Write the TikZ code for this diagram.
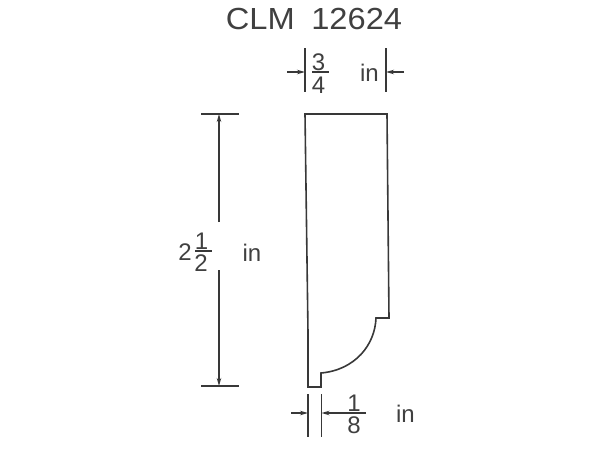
\documentclass[tikz,border=0pt]{standalone}
\usepackage{graphicx}
\usepackage{fontspec}
\setmainfont{Liberation Sans}
\usetikzlibrary{arrows.meta}
\tikzset{
  ln/.style={line width=1.4pt,draw=black!78},
  dimline/.style={ln,-{Stealth[length=8pt,width=4.5pt]}},
  big/.style={inner sep=0pt,anchor=center,text=black!75,font=\fontsize{30.5}{32}\selectfont},
  txt/.style={inner sep=0pt,anchor=center,text=black!75,font=\fontsize{24}{26}\selectfont}
}
\begin{document}
\begin{tikzpicture}[x=1pt,y=-1pt]
\useasboundingbox (0,0) rectangle (600,450);
\node[big] (title) at (314,19) {\scalebox{1.07}[1]{CLM\hspace{15.5pt}12624}};
% profile
\draw[ln,line width=1.6pt,line join=miter] (305,114) -- (387,114) -- (389,318) -- (376,318)
  .. controls (375,345) and (355,370) .. (321,373) -- (321,387) -- (308,387) -- (308,333) -- cycle;
% top dimension
\coordinate (ta) at (305,48); \coordinate (tb) at (305,92);
\coordinate (tc) at (386,48); \coordinate (td) at (386,92);
\coordinate (te) at (287,72); \coordinate (tf) at (305,72);
\coordinate (tg) at (404,72); \coordinate (th) at (386,72);
\coordinate (ti) at (312,72); \coordinate (tj) at (329,72);
\draw[ln] (ta) -- (tb); \draw[ln] (tc) -- (td);
\draw[dimline] (te) -- (tf); \draw[dimline] (tg) -- (th);
\draw[ln] (ti) -- (tj);
\node[txt] (t3) at (318.5,62) {3};
\node[txt] (t4) at (318.5,85.5) {4};
\node[txt] (tin) at (369.5,73) {in};
% left dimension
\coordinate (la) at (201,114); \coordinate (lb) at (239,114);
\coordinate (lc) at (201,386); \coordinate (ld) at (239,386);
\coordinate (le) at (219,222); \coordinate (lf) at (219,114);
\coordinate (lg) at (219,270); \coordinate (lh) at (219,386);
\coordinate (li) at (195,251); \coordinate (lj) at (212,251);
\draw[ln] (la) -- (lb); \draw[ln] (lc) -- (ld);
\draw[dimline] (le) -- (lf); \draw[dimline] (lg) -- (lh);
\draw[ln] (li) -- (lj);
\node[txt] (l2) at (185,252) {2};
\node[txt] (l1) at (201.5,241) {1};
\node[txt] (l22) at (201,263.5) {2};
\node[txt] (lin) at (252,253) {in};
% bottom dimension
\coordinate (ba) at (308,394); \coordinate (bb) at (308,437);
\coordinate (bc) at (321.5,394); \coordinate (bd) at (321.5,437);
\coordinate (be) at (291,413); \coordinate (bf) at (308,413);
\coordinate (bg) at (366,413); \coordinate (bh) at (321.5,413);
\draw[ln] (ba) -- (bb); \draw[ln] (bc) -- (bd);
\draw[dimline] (be) -- (bf); \draw[dimline] (bg) -- (bh);
\node[txt] (b1) at (354,403.5) {1};
\node[txt] (b8) at (354,425.5) {8};
\node[txt] (bin) at (405.5,414) {in};
\end{tikzpicture}
\end{document}
